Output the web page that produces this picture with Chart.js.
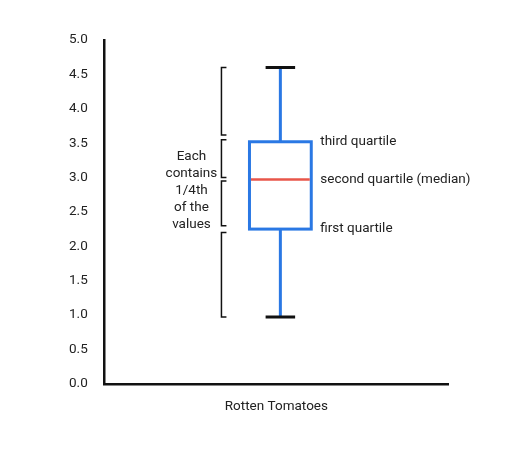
<!DOCTYPE html>
<html><head><meta charset="utf-8">
<script src="https://cdn.jsdelivr.net/npm/chart.js@4"></script>
<style>body{margin:0;background:#fff}#wrap{width:515px;height:453px}</style>
</head><body><div id="wrap"><canvas id="c"></canvas></div>
<script>
// ─── Dados ────────────────────────────────────────────────────────────────
const categorias = ['Rotten Tomatoes'];
const caixa = { min: 0.97, q1: 2.25, mediana: 2.97, q3: 3.52, max: 4.6 };
const chaves = [[3.62, 4.6], [3.0, 3.55], [2.3, 2.95], [0.97, 2.2]];
const rotulos = [
  { texto: 'third quartile', valor: 3.52 },
  { texto: 'second quartile (median)', valor: 2.97 },
  { texto: 'first quartile', valor: 2.25 },
];
const textoChave = ['Each', 'contains', '1/4th', 'of the', 'values'];

// ─── Plugin que desenha o boxplot ─────────────────────────────────────────
const boxPlugin = {
  id: 'box',
  afterDatasetsDraw(chart) {
    const { ctx, scales: { x, y }, chartArea: a } = chart;
    const w = a.right - a.left;
    const cx = x.getPixelForValue(0) + 4;
    const half = w * 0.09, cap = w * 0.043;
    ctx.save();
    ctx.strokeStyle = '#2a78e4'; ctx.lineWidth = 3;
    // whiskers
    ctx.beginPath();
    ctx.moveTo(cx, y.getPixelForValue(caixa.max)); ctx.lineTo(cx, y.getPixelForValue(caixa.q3));
    ctx.moveTo(cx, y.getPixelForValue(caixa.q1)); ctx.lineTo(cx, y.getPixelForValue(caixa.min));
    ctx.stroke();
    ctx.strokeRect(cx - half, y.getPixelForValue(caixa.q3), half * 2, y.getPixelForValue(caixa.q1) - y.getPixelForValue(caixa.q3));
    // caps
    ctx.strokeStyle = '#111';
    ctx.beginPath();
    [caixa.max, caixa.min].forEach(v => {
      const py = y.getPixelForValue(v);
      ctx.moveTo(cx - cap, py); ctx.lineTo(cx + cap, py);
    });
    ctx.stroke();
    // median
    ctx.strokeStyle = '#e8564a'; ctx.lineWidth = 2.5;
    ctx.beginPath();
    const my = y.getPixelForValue(caixa.mediana);
    ctx.moveTo(cx - half + 1.5, my); ctx.lineTo(cx + half - 1.5, my);
    ctx.stroke();
    // chaves
    const bx = a.left + w * 0.34;
    ctx.strokeStyle = '#111'; ctx.lineWidth = 1.5;
    chaves.forEach(([lo, hi]) => {
      const y1 = y.getPixelForValue(hi), y2 = y.getPixelForValue(lo);
      ctx.beginPath();
      ctx.moveTo(bx + 5, y1); ctx.lineTo(bx, y1); ctx.lineTo(bx, y2); ctx.lineTo(bx + 5, y2);
      ctx.stroke();
    });
    // textos
    ctx.fillStyle = '#222'; ctx.font = '13.5px Roboto'; ctx.textBaseline = 'middle';
    ctx.textAlign = 'left';
    rotulos.forEach(r => ctx.fillText(r.texto, cx + half + 9, y.getPixelForValue(r.valor)));
    ctx.textAlign = 'center';
    textoChave.forEach((t, i) => ctx.fillText(t, bx - 30, y.getPixelForValue(3.3) + i * 17));
    ctx.restore();
  }
};

new Chart(document.getElementById('c'), {
  type: 'bar',
  data: { labels: categorias, datasets: [{ data: [null] }] },
  options: {
    animation: false, responsive: true, maintainAspectRatio: false,
    layout: { padding: { top: 40, right: 67, left: 52, bottom: 23 } },
    plugins: { legend: { display: false }, tooltip: { enabled: false } },
    scales: {
      x: {
        grid: { display: false, drawTicks: false },
        border: { color: '#111', width: 2.5 },
        ticks: { color: '#222', font: { family: 'Roboto', size: 13.5 }, padding: 15 },
      },
      y: {
        min: 0, max: 5,
        grid: { display: false, drawTicks: false },
        border: { color: '#111', width: 2.5 },
        ticks: { stepSize: 0.5, color: '#222', font: { family: 'Roboto', size: 13.5 }, padding: 17,
                 callback: v => v.toFixed(1) },
      },
    },
  },
  plugins: [boxPlugin],
});
</script></body></html>
